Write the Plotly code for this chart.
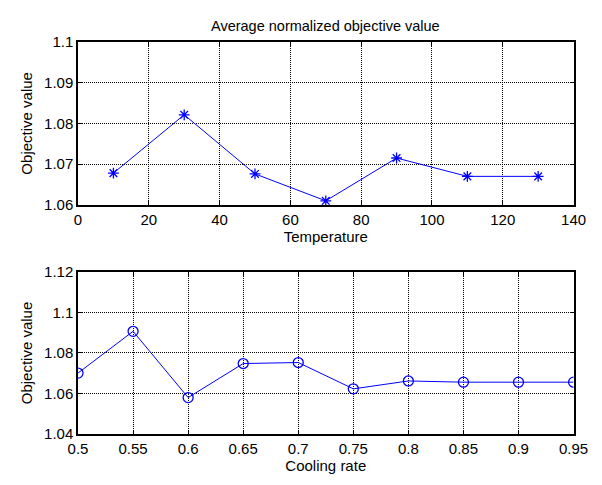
import plotly.graph_objects as go

# Sweep results: average normalized objective value
temperature = [10, 30, 50, 70, 90, 110, 130]
temp_objective = [1.0678, 1.0821, 1.0676, 1.0610, 1.0715, 1.0670, 1.0670]

cooling_rate = [0.5, 0.55, 0.6, 0.65, 0.7, 0.75, 0.8, 0.85, 0.9, 0.95]
rate_objective = [1.0701, 1.0907, 1.0580, 1.0748, 1.0753, 1.0623, 1.0662, 1.0656, 1.0656, 1.0656]

temp_ticks = [0, 20, 40, 60, 80, 100, 120, 140]
temp_yticks = [1.06, 1.07, 1.08, 1.09, 1.1]
temp_ylabels = ["1.06", "1.07", "1.08", "1.09", "1.1"]
rate_ticks = [0.5, 0.55, 0.6, 0.65, 0.7, 0.75, 0.8, 0.85, 0.9, 0.95]
rate_labels = ["0.5", "0.55", "0.6", "0.65", "0.7", "0.75", "0.8", "0.85", "0.9", "0.95"]
rate_yticks = [1.04, 1.06, 1.08, 1.1, 1.12]
rate_ylabels = ["1.04", "1.06", "1.08", "1.1", "1.12"]

FONT = "Liberation Sans, Arial, sans-serif"
FS = 15
TITLE_FS = 14.5
BLUE = "rgb(0,0,255)"

X_DOM = [0.1179, 0.9767]
TOP_DOM = [0.5814, 0.9299]
BOT_DOM = [0.0918, 0.4381]

fig = go.Figure()
fig.add_trace(go.Scatter(
    x=temperature, y=temp_objective, mode="lines+markers",
    line=dict(color=BLUE, width=1),
    marker=dict(symbol="asterisk-open", size=9, color=BLUE, line=dict(color=BLUE, width=1.3)),
    xaxis="x", yaxis="y", showlegend=False,
))
fig.add_trace(go.Scatter(
    x=cooling_rate, y=rate_objective, mode="lines+markers",
    line=dict(color=BLUE, width=1),
    marker=dict(symbol="circle-open", size=10, color=BLUE, line=dict(color=BLUE, width=1.3)),
    xaxis="x2", yaxis="y2", showlegend=False,
))

axis_common = dict(
    showline=True, linecolor="black", linewidth=1.5, mirror="allticks",
    ticks="inside", ticklen=4, tickcolor="black", tickwidth=1,
    showgrid=True, gridcolor="black", gridwidth=1, griddash="1px,1px",
    zeroline=False, tickfont=dict(family=FONT, size=FS, color="black"),
)


def xtitle(text):
    return dict(text=text, standoff=3, font=dict(family=FONT, size=FS, color="black"))


def ytitle(text):
    return dict(text=text, standoff=8, font=dict(family=FONT, size=FS, color="black"))


fig.update_layout(
    width=602, height=485,
    margin=dict(l=0, r=0, t=0, b=0),
    paper_bgcolor="white", plot_bgcolor="white",
    font=dict(family=FONT, size=FS, color="black"),
    xaxis=dict(domain=X_DOM, range=[0, 140], tickvals=temp_ticks,
               anchor="y", title=xtitle("Temperature"), **axis_common),
    yaxis=dict(domain=TOP_DOM, range=[1.06, 1.1], tickvals=temp_yticks, ticktext=temp_ylabels,
               anchor="x", title=ytitle("Objective value"), **axis_common),
    xaxis2=dict(domain=X_DOM, range=[0.5, 0.95], tickvals=rate_ticks, ticktext=rate_labels,
                anchor="y2", title=xtitle("Cooling rate"), **axis_common),
    yaxis2=dict(domain=BOT_DOM, range=[1.04, 1.12], tickvals=rate_yticks, ticktext=rate_ylabels,
                anchor="x2", title=ytitle("Objective value"), **axis_common),
    annotations=[dict(
        text="Average normalized objective value", xref="paper", yref="paper",
        x=sum(X_DOM) / 2, y=TOP_DOM[1], yshift=16, xanchor="center", yanchor="middle",
        showarrow=False, font=dict(family=FONT, size=TITLE_FS, color="black"),
    )],
)

fig.write_html("out.html")
